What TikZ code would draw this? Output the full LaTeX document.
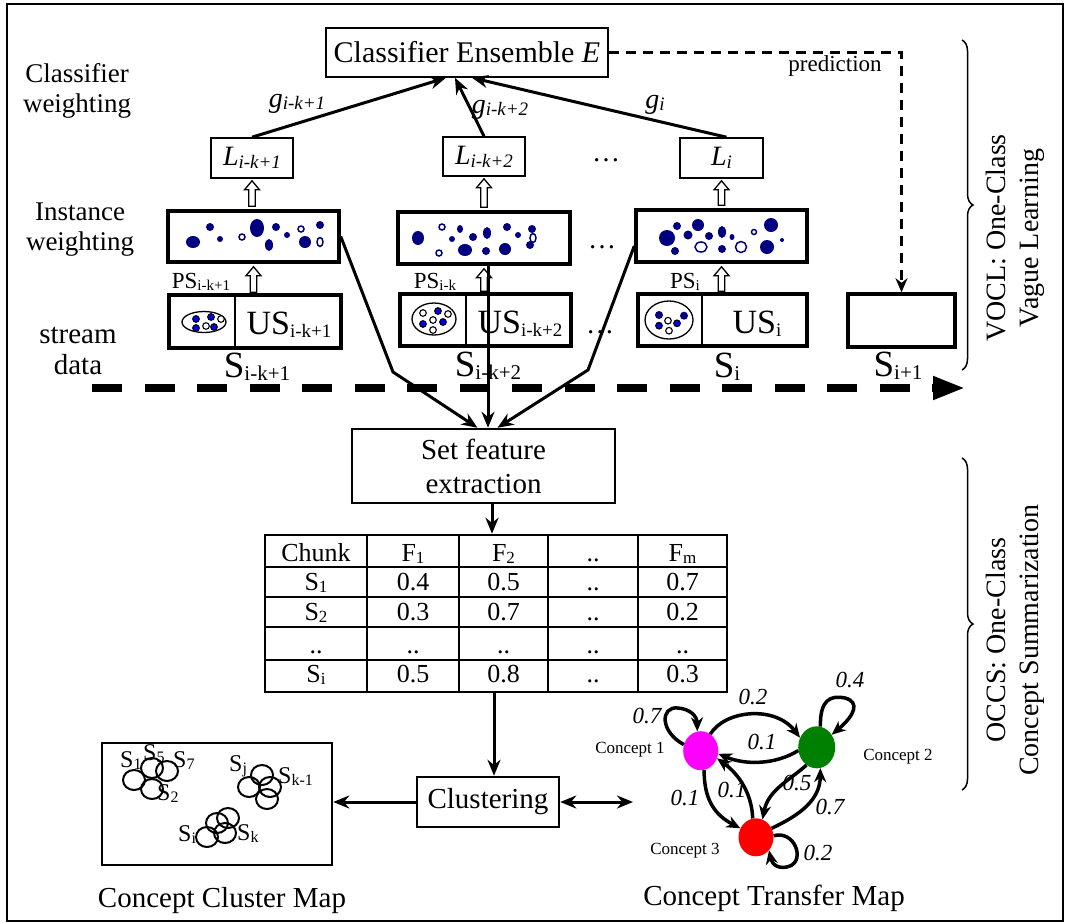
\documentclass[tikz,border=0pt]{standalone}
\usepackage{fontspec}
\setmainfont{Liberation Serif}
\usetikzlibrary{arrows.meta,decorations.pathreplacing,calc,shapes.geometric}
\definecolor{dotb}{RGB}{0,0,128}
\definecolor{cmag}{RGB}{255,0,255}
\definecolor{cgreen}{RGB}{0,128,0}
\definecolor{cred}{RGB}{255,0,0}
\newcommand\fsz[2]{\fontsize{#1}{#2}\selectfont}
\newcommand\mysb[2]{\raisebox{-0.22ex}{\fontsize{#1}{#1}\selectfont #2}}
\newcommand\dotf[4]{\fill[dotb] (#1,#2) ellipse[x radius=#3, y radius=#4];}
\newcommand\doto[4]{\draw[dotb,line width=1.5] (#1,#2) ellipse[x radius=#3, y radius=#4];}
\newcommand\dotbl[2]{\filldraw[fill=blue,draw=black,line width=1.1] (#1,#2) circle[radius=3.3];}
\newcommand\dotwh[2]{\filldraw[fill=white,draw=black,line width=1.1] (#1,#2) circle[radius=3.3];}
\newcommand\dotnv[2]{\fill[dotb] (#1,#2) circle[radius=4];}
\newcommand\hollowarrow[2]{\draw[hol] ($(#2|-#1)+(-3.2,0)$) -- ($(#2)+(-3.2,9)$) -- ($(#2)+(-7.5,9)$) -- (#2) -- ($(#2)+(7.5,9)$) -- ($(#2)+(3.2,9)$) -- ($(#2|-#1)+(3.2,0)$) -- cycle;}
\begin{document}
\begin{tikzpicture}[x=1pt,y=-1pt,
 thinbox/.style={draw,line width=1.6,inner sep=0pt},
 thickbox/.style={draw,line width=3.5,inner sep=0pt},
 medbox/.style={draw,line width=2.5,inner sep=0pt},
 arr/.style={line width=3,-{Stealth[length=16pt,width=13pt]}},
 carr/.style={line width=3.5,-{Stealth[length=14pt,width=12pt]}},
 hol/.style={draw,line width=1.3,fill=white},
 lbl/.style={font=\fsz{27}{30},align=center},
 wt/.style={font=\fsz{23}{26}\itshape},
 cn/.style={font=\fsz{17}{20}},
 cell/.style={font=\fsz{26}{28},anchor=base},
 brc/.style={decorate,decoration={brace,amplitude=11pt},line width=1.5},
 circ/.style={line width=2},
]
\useasboundingbox (0,0) rectangle (1066,922);
\draw[line width=2.5] (7,4) rectangle (1063,921);

% side labels
\node[lbl] (cw) at (77,91) {Classifier\\weighting};
\node[lbl] (iw) at (80,229.5) {Instance\\weighting};
\node[lbl,font=\fsz{29}{31}] (sd) at (78,351) {stream\\data};

% ensemble
\node[thinbox,minimum width=282,minimum height=49,font=\fsz{30}{34}] (ens) at (467,52.5) {Classifier Ensemble \textit{E}};

% L boxes
\node[thinbox,minimum width=82,minimum height=40,font=\fsz{28}{30}] (L1) at (252,158) {\textit{L\mysb{19}{i-k+1}}};
\node[thinbox,minimum width=82,minimum height=39,font=\fsz{28}{30}] (L2) at (484,156.5) {\textit{L\mysb{19}{i-k+2}}};
\node[thinbox,minimum width=83,minimum height=40,font=\fsz{28}{30}] (L3) at (721.5,158) {\textit{L\mysb{19}{i}}};

% g labels
\node[font=\fsz{28}{30},anchor=base] (g1) at (297,107) {\textit{g\mysb{19}{i-k+1}}};
\node[font=\fsz{28}{30},anchor=base] (g2) at (500,113) {\textit{g\mysb{19}{i-k+2}}};
\node[font=\fsz{28}{30},anchor=base] (g3) at (655,108) {\textit{g\mysb{19}{i}}};

\draw[arr] (L1.north) -- ([xshift=-21]ens.south);
\draw[arr] (L2.north) -- ([xshift=-12]ens.south);
\draw[arr] ([xshift=5]L3.north) -- ([xshift=5]ens.south);

% instance boxes
\node[thickbox,minimum width=171,minimum height=51] (I1) at (253.5,236.5) {};
\node[thickbox,minimum width=172,minimum height=52] (I2) at (484,238) {};
\node[thickbox,minimum width=171,minimum height=52] (I3) at (721.5,236) {};

% chunk boxes
\node[thickbox,minimum width=172,minimum height=53] (ch1) at (255,321.5) {};
\node[thickbox,minimum width=171,minimum height=52] (ch2) at (485.5,320) {};
\node[thickbox,minimum width=169,minimum height=52] (ch3) at (722.5,320) {};
\node[thickbox,minimum width=107,minimum height=53] (ch4) at (901.5,320.5) {};
\draw[line width=1.6] (235,296) -- (235,347);
\draw[line width=1.6] (466,295) -- (466,345);
\draw[line width=1.6] (702,295) -- (702,345);

% US texts
\node[font=\fsz{34}{36},anchor=base] (us1) at (289,334) {US\mysb{19}{i-k+1}};
\node[font=\fsz{34}{36},anchor=base] (us2) at (520,333) {US\mysb{19}{i-k+2}};
\node[font=\fsz{34}{36},anchor=base] (us3) at (757,333) {US\mysb{19}{i}};

% PS labels
\node[font=\fsz{23}{25},anchor=base] (ps1) at (201,288) {PS\mysb{15}{i-k+1}};
\node[font=\fsz{23}{25},anchor=base] (ps2) at (435,288) {PS\mysb{15}{i-k}};
\node[font=\fsz{23}{25},anchor=base] (ps3) at (685,288) {PS\mysb{15}{i}};

% S labels
\node[font=\fsz{37}{38},anchor=base] (s1) at (257,377) {S\mysb{21}{i-k+1}};
\node[font=\fsz{37}{38},anchor=base] (s2) at (488,376) {S\mysb{21}{i-k+2}};
\node[font=\fsz{37}{38},anchor=base] (s3) at (727,377) {S\mysb{21}{i}};
\node[font=\fsz{37}{38},anchor=base] (s4) at (898,376) {S\mysb{21}{i+1}};

% dots between columns
\node[font=\fsz{28}{28}] (d1) at (606,160) {…};
\node[font=\fsz{28}{28}] (d2) at (602,247) {…};
\node[font=\fsz{28}{28}] (d3) at (600,332) {…};

% chunk ellipses
\draw[line width=1.3] (204,322) ellipse[x radius=22, y radius=10.5];
\dotbl{196}{319}\dotbl{211}{317}\dotbl{196}{328}\dotbl{214}{327}\dotwh{206}{326}\dotwh{221}{319}
\draw[line width=1.3] (434,319) ellipse[x radius=22, y radius=16];
\dotwh{423}{313}\dotwh{448}{314}\dotwh{433}{320}\dotwh{433}{330}\dotbl{438}{311}\dotbl{423}{324}\dotbl{443}{322}
\draw[line width=1.3] (669,320) ellipse[x radius=24, y radius=19];
\dotnv{659}{315}\dotnv{684}{315.7}\dotbl{659}{325.7}\dotbl{677}{323.3}\dotwh{668}{320.7}\dotwh{669}{330.7}

% instance dots box 1
\dotf{193}{242}{7}{6}\dotf{210}{227}{4}{4}\dotf{220}{239}{3}{3}\doto{242}{237}{3}{3}
\dotf{257}{228}{7}{9}\dotf{269}{245}{4}{6}\dotf{276}{227}{4}{4}\dotf{287}{235}{3}{3}
\doto{301}{229}{3}{3}\dotf{305}{242}{6}{6}\dotf{320}{225}{4}{4}\doto{320}{242}{3}{4.5}
% box 2
\dotf{418}{238}{6}{7}\doto{442}{227}{3}{3}\dotf{460}{229}{3}{4}\dotf{452}{239}{3}{3}
\dotf{473}{237}{4}{4}\dotf{465}{250}{7}{6}\dotf{487}{233}{4}{6}\dotf{486}{251}{4}{4}
\dotf{507}{227}{4}{4}\dotf{505}{249}{6}{6}\dotf{518}{235}{3}{3}\dotf{532}{229}{4}{4}
\doto{533}{238}{3}{4.5}\dotf{530}{245}{4}{4}\doto{439}{253}{3}{3}
% box 3
\dotf{667}{238}{8}{8}\dotf{677}{226}{4}{4}\dotf{675}{251}{4}{4}\dotf{688}{235}{4.5}{4.5}
\dotf{698}{225}{6}{6}\doto{701}{247}{6}{5}\dotf{709}{236}{4}{4}\dotf{722}{232}{4}{6}
\dotf{722}{249}{4}{4}\dotf{732}{237}{2.5}{3}\doto{741}{247}{5.5}{5.5}\doto{754}{232}{2.5}{2.5}
\dotf{771}{225}{7}{7}\dotf{767}{247}{7}{7}\dotf{782}{240}{2}{2}

% hollow arrows
\coordinate (ha1) at ([yshift=-2]L1.south); \coordinate (hb1) at ([yshift=3]I1.north);
\coordinate (ha2) at ([yshift=-2]L2.south); \coordinate (hb2) at ([yshift=3]I2.north);
\coordinate (ha3) at ([yshift=-2]L3.south); \coordinate (hb3) at ([yshift=3]I3.north);
\coordinate (hc1) at ([yshift=-3]I1.south); \coordinate (hd1) at ([yshift=1]ch1.north);
\coordinate (hc2) at ([yshift=-3]I2.south); \coordinate (hd2) at ([yshift=1]ch2.north);
\coordinate (hc3) at ([yshift=-3]I3.south); \coordinate (hd3) at ([yshift=1]ch3.north);
\hollowarrow{hb1}{ha1}\hollowarrow{hb2}{ha2}\hollowarrow{hb3}{ha3}
\hollowarrow{hd1}{hc1}\hollowarrow{hd2}{hc2}\hollowarrow{hd3}{hc3}

% prediction
\node[font=\fsz{23}{25}] (pred) at (835,66) {prediction};
\draw[line width=3,dash pattern=on 10pt off 7pt,-{Stealth[length=14pt,width=12pt]}] (ens.east) -- (ens.east -| ch4.north) -- (ch4.north);

% stream arrow
\coordinate (ss) at (92,388); \coordinate (se) at (965,388);
\draw[line width=7.5,dash pattern=on 30pt off 22.5pt,-{Triangle[length=32pt,width=22pt]}] (ss) -- (se);

% set feature extraction
\node[medbox,minimum width=263,minimum height=74,align=center,font=\fsz{29}{34}] (sfe) at (483.5,466) {Set feature\\extraction};
\draw[arr] (I1.east) -- (393,372) -- ([xshift=-6]sfe.north);
\draw[arr] ([xshift=4]I2.south) -- ([xshift=4]I2.south |- sfe.north);
\draw[arr] ([yshift=-10]I3.west) -- (588,370) -- ([xshift=14]sfe.north);

% table
\node[medbox,minimum width=462,minimum height=157] (tab) at (496,613.5) {};
\draw[arr] ([xshift=8.5]sfe.south) -- ([xshift=8.5]sfe.south |- tab.north);
\foreach \x in {367,459,548,638} \draw[line width=2] (\x,535) -- (\x,692);
\foreach \y in {567,597,627,660} \draw[line width=2] (265,\y) -- (727,\y);
\foreach \t/\xx [count=\c] in {Chunk/316, F\mysb{17}{1}/413, F\mysb{17}{2}/503.5, ../593, F\mysb{17}{m}/682.5}
  \node[cell] (h\c) at (\xx,561) {\t};
\foreach \t/\xx [count=\c] in {S\mysb{17}{1}/316, 0.4/413, 0.5/503.5, ../593, 0.7/682.5}
  \node[cell] (ra\c) at (\xx,590) {\t};
\foreach \t/\xx [count=\c] in {S\mysb{17}{2}/316, 0.3/413, 0.7/503.5, ../593, 0.2/682.5}
  \node[cell] (rb\c) at (\xx,620) {\t};
\foreach \t/\xx [count=\c] in {../316, ../413, ../503.5, ../593, ../682.5}
  \node[cell] (rc\c) at (\xx,653) {\t};
\foreach \t/\xx [count=\c] in {S\mysb{17}{i}/316, 0.5/413, 0.8/503.5, ../593, 0.3/682.5}
  \node[cell] (rd\c) at (\xx,682) {\t};

% clustering
\node[medbox,minimum width=142,minimum height=50,font=\fsz{29}{31}] (clu) at (488,802) {Clustering};
\draw[arr] ([xshift=6]clu.north |- tab.south) -- ([xshift=6]clu.north);
\node[medbox,minimum width=230,minimum height=122] (cmap) at (217,804) {};
\draw[arr] (clu.west) -- (clu.west -| cmap.east);
\coordinate (ctm) at (633,802);
\draw[line width=3,{Stealth[length=16pt,width=13pt]}-{Stealth[length=16pt,width=13pt]}] (clu.east) -- (ctm);

% cluster map content
\draw[circ] (134,780) ellipse[x radius=11, y radius=10];
\draw[circ] (152,768) ellipse[x radius=11, y radius=10];
\draw[circ] (167,771) ellipse[x radius=11, y radius=10];
\draw[circ] (152,789) ellipse[x radius=11, y radius=10];
\draw[circ] (249,787) ellipse[x radius=11, y radius=10];
\draw[circ] (262,775) ellipse[x radius=11, y radius=10];
\draw[circ] (270,787) ellipse[x radius=11, y radius=10];
\draw[circ] (267,799) ellipse[x radius=11, y radius=10];
\draw[circ] (207,837) ellipse[x radius=11, y radius=10];
\draw[circ] (217,823) ellipse[x radius=11, y radius=10];
\draw[circ] (228,818) ellipse[x radius=11, y radius=10];
\draw[circ] (225,833) ellipse[x radius=11, y radius=10];
\node[font=\fsz{24}{26},anchor=base west,inner sep=0] (k1) at (120,767) {S\mysb{16}{1}};
\node[font=\fsz{24}{26},anchor=base west,inner sep=0] (k5) at (143,760) {S\mysb{16}{5}};
\node[font=\fsz{24}{26},anchor=base west,inner sep=0] (k7) at (173,767) {S\mysb{16}{7}};
\node[font=\fsz{24}{26},anchor=base west,inner sep=0] (k2) at (157,800) {S\mysb{16}{2}};
\node[font=\fsz{24}{26},anchor=base west,inner sep=0] (kj) at (229,771) {S\mysb{16}{j}};
\node[font=\fsz{24}{26},anchor=base west,inner sep=0] (kk1) at (278,783) {S\mysb{16}{k-1}};
\node[font=\fsz{24}{26},anchor=base west,inner sep=0] (ki) at (178,841) {S\mysb{16}{i}};
\node[font=\fsz{24}{26},anchor=base west,inner sep=0] (kk) at (237,840) {S\mysb{16}{k}};

\node[font=\fsz{29}{31},anchor=base] (ccm) at (222,907) {Concept Cluster Map};
\node[font=\fsz{29}{31},anchor=base] (ctmap) at (774,905) {Concept Transfer Map};

% concept transfer map
\node[ellipse,fill=cmag,minimum width=35,minimum height=39,inner sep=0] (c1) at (700.7,750.7) {};
\node[ellipse,fill=cgreen,minimum width=37,minimum height=42,inner sep=0] (c2) at (816.7,747.3) {};
\node[ellipse,fill=cred,minimum width=35,minimum height=38,inner sep=0] (c3) at (756,837.3) {};
\node[cn] (n1) at (630,750) {Concept 1};
\node[cn] (n2) at (898,757) {Concept 2};
\node[cn] (n3) at (685,851) {Concept 3};

\draw[carr] (c1.160) .. controls (660,732) and (660,706) .. (678,708) .. controls (690,709) and (697,716) .. (c1.100);
\draw[carr] (c1.60) .. controls (725,710) and (775,705) .. (c2.150);
\draw[carr] (c2.190) .. controls (775,765) and (745,765) .. (c1.350);
\draw[carr] (c2.80) .. controls (820,700) and (830,695) .. (845,698) .. controls (860,702) and (855,715) .. (c2.40);
\draw[carr] (c1.280) .. controls (704,800) and (715,815) .. (c3.150);
\draw[carr] (c3.100) .. controls (752,795) and (740,775) .. (c1.335);
\draw[carr] (c2.240) .. controls (790,780) and (768,790) .. (c3.70);
\draw[carr] (c3.30) .. controls (800,815) and (820,800) .. (c2.280);
\draw[carr] (c3.5) .. controls (795,830) and (805,860) .. (790,866) .. controls (780,870) and (772,865) .. (c3.315);

\node[wt] (w1) at (647,716) {0.7};
\node[wt] (w2) at (753,697) {0.2};
\node[wt] (w3) at (762,742) {0.1};
\node[wt] (w4) at (850,680) {0.4};
\node[wt] (w5) at (685,798) {0.1};
\node[wt] (w6) at (732,790) {0.1};
\node[wt] (w7) at (797,783) {0.5};
\node[wt] (w8) at (830,807) {0.7};
\node[wt] (w9) at (818,853) {0.2};

% braces
\draw[brc] (962,40) -- (962,370);
\draw[brc] (962,458) -- (962,790);
\node[rotate=90,align=center,font=\fsz{28}{33}] (vocl) at (1015,238) {VOCL: One-Class\\Vague Learning};
\node[rotate=90,align=center,font=\fsz{28}{33}] (occs) at (1015,640) {OCCS: One-Class\\Concept Summarization};
\end{tikzpicture}
\end{document}
